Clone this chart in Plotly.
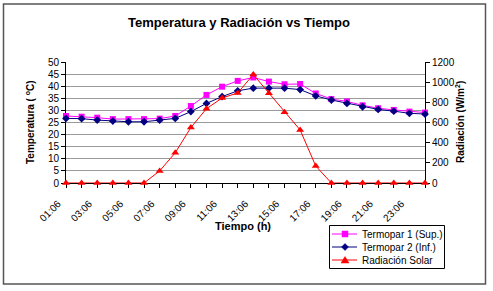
import plotly.graph_objects as go

times = ["01:06","02:06","03:06","04:06","05:06","06:06","07:06","08:06","09:06","10:06","11:06","12:06",
         "13:06","14:06","15:06","16:06","17:06","18:06","19:06","20:06","21:06","22:06","23:06","24:06"]
tick_labels = [t if i % 2 == 0 else "" for i, t in enumerate(times)]
termopar1 = [27.7, 27.4, 27.0, 26.4, 26.4, 26.4, 26.6, 27.7, 31.8, 36.4, 39.8, 42.2,
             43.6, 41.9, 40.8, 40.9, 37.0, 34.7, 33.7, 32.1, 30.9, 30.2, 29.5, 29.1]
termopar2 = [26.7, 26.6, 26.0, 25.6, 25.3, 25.3, 26.0, 26.7, 29.5, 32.9, 35.7, 38.1,
             39.2, 39.2, 39.2, 38.6, 36.0, 34.3, 32.9, 31.5, 30.4, 29.7, 28.8, 28.5]
radiacion = [0, 0, 0, 0, 0, 0, 120, 300, 550, 737, 843, 893,
             1075, 890, 701, 526, 169, 0, 0, 0, 0, 0, 0, 0]
series_names = ["Termopar 1 (Sup.)", "Termopar 2 (Inf.)", "Radiación Solar"]
series_colors = ["#FF00FF", "#000080", "#FF0000"]

FONT = "Liberation Sans, Arial, sans-serif"
W, H = 493, 291
L, R, T, B = 66, 425, 62, 183

def px(x):
    return (x - L) / (R - L)

def py(y):
    return (B - y) / (B - T)

fig = go.Figure()
fig.add_trace(go.Scatter(x=times, y=termopar1, name=series_names[0], mode="lines+markers",
                         line=dict(color=series_colors[0], width=1),
                         marker=dict(symbol="square", size=6, color=series_colors[0]), cliponaxis=False))
fig.add_trace(go.Scatter(x=times, y=termopar2, name=series_names[1], mode="lines+markers",
                         line=dict(color=series_colors[1], width=1),
                         marker=dict(symbol="diamond", size=6, color=series_colors[1]), cliponaxis=False))
fig.add_trace(go.Scatter(x=times, y=radiacion, name=series_names[2], mode="lines+markers", yaxis="y2",
                         line=dict(color=series_colors[2], width=1),
                         marker=dict(symbol="triangle-up", size=7, color=series_colors[2]), cliponaxis=False))

fig.update_layout(
    width=W, height=H,
    margin=dict(l=L, r=W - R, t=T, b=H - B, autoexpand=False),
    paper_bgcolor="white", plot_bgcolor="white",
    font=dict(family=FONT, size=10, color="black"),
    title=dict(text="<b>Temperatura y Radiación vs Tiempo</b>", x=239 / W, xanchor="center",
               y=1 - 22 / H, yanchor="middle", font=dict(size=13, family=FONT, color="black")),
    xaxis=dict(type="category", categoryorder="array", categoryarray=times, range=[0, 23],
               tickmode="array", tickvals=times, ticktext=tick_labels, tickangle=-45,
               ticks="outside", ticklen=4, tickcolor="black", showline=True, linecolor="black",
               linewidth=1, showgrid=False, zeroline=False, layer="below traces",
               tickfont=dict(size=10), automargin=False, ticklabelshift=-8, ticklabelstandoff=6),
    yaxis=dict(range=[0, 50], dtick=5, tick0=0, ticks="outside", ticklen=4, tickcolor="black",
               showline=True, linecolor="black", linewidth=1, showgrid=True, gridcolor="#9a9a9a",
               gridwidth=1, zeroline=False, tickfont=dict(size=10), layer="below traces",
               automargin=False),
    yaxis2=dict(range=[0, 1200], dtick=200, tick0=0, overlaying="y", side="right", ticks="outside",
                ticklen=4, tickcolor="black", showline=True, linecolor="black", linewidth=1,
                showgrid=False, zeroline=False, tickfont=dict(size=10), layer="below traces",
                automargin=False),
    showlegend=False,
)

fig.add_annotation(text="<b>Temperatura ( <sup>o</sup>C)</b>", x=px(22), y=py(122), xref="paper", yref="paper",
                   textangle=-90, showarrow=False, font=dict(size=10, family=FONT))
fig.add_annotation(text="<b>Radiación (W/m<sup>2</sup>)</b>", x=px(468), y=py(122), xref="paper", yref="paper",
                   textangle=-90, showarrow=False, font=dict(size=10, family=FONT))
fig.add_annotation(text="<b>Tiempo (h)</b>", x=px(243), y=py(234), xref="paper", yref="paper",
                   showarrow=False, font=dict(size=11, family=FONT))

# outer chart frame
fig.add_shape(type="rect", xref="paper", yref="paper", x0=px(3.5), x1=px(485.5), y0=py(284), y1=py(4),
              line=dict(color="#555555", width=1.5), layer="below")

# legend box (drawn manually to match the compact Excel legend)
fig.add_shape(type="rect", xref="paper", yref="paper", x0=px(329.5), x1=px(444.5), y0=py(268.5), y1=py(225.5),
              line=dict(color="black", width=1), fillcolor="white", layer="above")
rows = [234, 247, 260]
cx = 345
for name, color, ry, sym in zip(series_names, series_colors, rows, ["square", "diamond", "triangle"]):
    fig.add_shape(type="line", xref="paper", yref="paper", x0=px(332), x1=px(357), y0=py(ry), y1=py(ry),
                  line=dict(color=color, width=1), layer="above")
    if sym == "square":
        pts = [(cx - 3, ry - 3), (cx + 3, ry - 3), (cx + 3, ry + 3), (cx - 3, ry + 3)]
    elif sym == "diamond":
        pts = [(cx, ry - 3.5), (cx + 3.5, ry), (cx, ry + 3.5), (cx - 3.5, ry)]
    else:
        pts = [(cx, ry - 3.5), (cx + 4, ry + 3), (cx - 4, ry + 3)]
    path = "M " + " L ".join(f"{px(a):.5f},{py(b):.5f}" for a, b in pts) + " Z"
    fig.add_shape(type="path", xref="paper", yref="paper", path=path,
                  line=dict(color=color, width=0.5), fillcolor=color, layer="above")
    fig.add_annotation(text=name, x=px(360), y=py(ry), xref="paper", yref="paper", xanchor="left",
                       yanchor="middle", showarrow=False, font=dict(size=10, family=FONT, color="black"))

fig.write_html("out.html", config={"displayModeBar": False},
               post_script="document.body.style.margin='0';")
